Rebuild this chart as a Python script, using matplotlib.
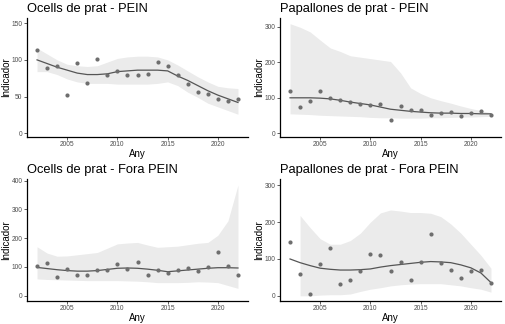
import numpy as np
import matplotlib
matplotlib.use("Agg")
import matplotlib.pyplot as plt

plt.rcParams['font.family'] = ['Liberation Sans', 'DejaVu Sans']

years = list(range(2002, 2023))

# Ocells de prat - PEIN
ocells_pein = [113, 89, 91, 52, 96, 68, 101, 80, 85, 80, 80, 81, 97, 92, 79, 67, 56, 53, 47, 44, 47]
ocells_pein_fit = [100, 95, 90, 86, 82, 80, 80, 81, 84, 85, 86, 86, 86, 85, 78, 72, 65, 58, 52, 47, 42]
ocells_pein_hi = [116, 108, 100, 94, 92, 91, 92, 97, 102, 104, 105, 105, 104, 100, 93, 85, 77, 70, 64, 62, 61]
ocells_pein_lo = [84, 84, 80, 74, 70, 68, 68, 68, 67, 67, 67, 67, 68, 70, 65, 56, 49, 41, 36, 31, 26]

# Papallones de prat - PEIN
pap_pein = [118, 73, 91, 120, 100, 94, 87, 82, 80, 84, 38, 78, 65, 65, 53, 56, 59, 50, 57, 63, 52]
pap_pein_fit = [100, 100, 100, 99, 97, 93, 88, 84, 80, 74, 68, 65, 62, 60, 58, 57, 57, 56, 56, 55, 55]
pap_pein_hi = [308, 298, 285, 262, 240, 230, 218, 214, 210, 206, 202, 170, 128, 112, 100, 92, 85, 77, 70, 64, 58]
pap_pein_lo = [55, 54, 53, 51, 50, 49, 48, 47, 45, 44, 44, 43, 43, 43, 44, 44, 45, 46, 46, 47, 48]

# Ocells de prat - Fora PEIN
ocells_fora = [102, 113, 65, 94, 73, 71, 88, 90, 110, 92, 117, 71, 90, 77, 88, 95, 85, 98, 153, 104, 72]
ocells_fora_fit = [98, 94, 90, 87, 85, 85, 87, 91, 95, 96, 95, 92, 88, 83, 86, 89, 92, 95, 97, 97, 96]
ocells_fora_hi = [170, 148, 137, 138, 142, 146, 150, 165, 180, 183, 185, 176, 168, 170, 172, 177, 182, 185, 210, 260, 385]
ocells_fora_lo = [58, 56, 55, 54, 53, 52, 52, 52, 52, 51, 50, 48, 45, 45, 45, 46, 48, 47, 45, 35, 25]

# Papallones de prat - Fora PEIN
pap_fora = [145, 60, 4, 86, 130, 31, 44, 68, 114, 110, 68, 92, 42, 92, 168, 89, 70, 48, 68, 69, 34]
pap_fora_fit = [100, 90, 82, 75, 72, 70, 70, 71, 73, 78, 82, 85, 88, 91, 93, 92, 90, 84, 76, 62, 36]
pap_fora_hi = [np.nan, 218, 185, 155, 140, 140, 150, 170, 200, 225, 233, 230, 226, 226, 224, 215, 195, 170, 140, 110, 75]
pap_fora_lo = [np.nan, 0, 0, 2, 3, 3, 5, 12, 18, 22, 27, 30, 32, 33, 33, 33, 30, 27, 22, 18, 10]

panels = [
    ("Ocells de prat - PEIN", ocells_pein, ocells_pein_fit, ocells_pein_lo, ocells_pein_hi,
     (-5, 157), [0, 50, 100, 150]),
    ("Papallones de prat - PEIN", pap_pein, pap_pein_fit, pap_pein_lo, pap_pein_hi,
     (-10, 324), [0, 100, 200, 300]),
    ("Ocells de prat - Fora PEIN", ocells_fora, ocells_fora_fit, ocells_fora_lo, ocells_fora_hi,
     (-19, 406), [0, 100, 200, 300, 400]),
    ("Papallones de prat - Fora PEIN", pap_fora, pap_fora_fit, pap_fora_lo, pap_fora_hi,
     (-14, 317), [0, 100, 200, 300]),
]

W, H = 505, 324
fig = plt.figure(figsize=(W / 100, H / 100), dpi=100)
fig.patch.set_facecolor("white")

# axes boxes in pixels: left, top, right, bottom
boxes = [(27, 18, 248, 137), (280, 18, 501, 137),
         (27, 179, 248, 301), (280, 179, 501, 301)]

for (title, pts, fit, lo, hi, ylim, yticks), (l, t, r, b) in zip(panels, boxes):
    ax = fig.add_axes([l / W, (H - b) / H, (r - l) / W, (b - t) / H])
    ax.fill_between(years, lo, hi, color="#ebebeb", lw=0, zorder=1)
    ax.plot(years, fit, color="#555555", lw=0.9, zorder=2)
    ax.scatter(years, pts, s=9, color="#6e6e6e", lw=0, zorder=3)
    ax.set_xlim(2001, 2023)
    ax.set_ylim(*ylim)
    ax.set_xticks([2005, 2010, 2015, 2020])
    ax.set_yticks(yticks)
    for s in ["top", "right"]:
        ax.spines[s].set_visible(False)
    for s in ["left", "bottom"]:
        ax.spines[s].set_linewidth(0.9)
        ax.spines[s].set_color("black")
    ax.tick_params(length=2, width=0.6, color="#444444", labelsize=4.8,
                   labelcolor="#4d4d4d", pad=1.2)
    ax.set_xlabel("Any", fontsize=7)
    ax.set_ylabel("Indicador", fontsize=7)
    ax.xaxis.set_label_coords(0.5, -17 / (b - t), transform=ax.transAxes)
    ax.xaxis.label.set_va("center")
    ax.yaxis.set_label_coords(-21 / (r - l), 0.5, transform=ax.transAxes)
    ax.yaxis.label.set_va("center")
    ax.text(0, 1 + 9 / (b - t), title, transform=ax.transAxes, fontsize=9.3,
            ha="left", va="center")

fig.savefig("out.png", dpi=100)
